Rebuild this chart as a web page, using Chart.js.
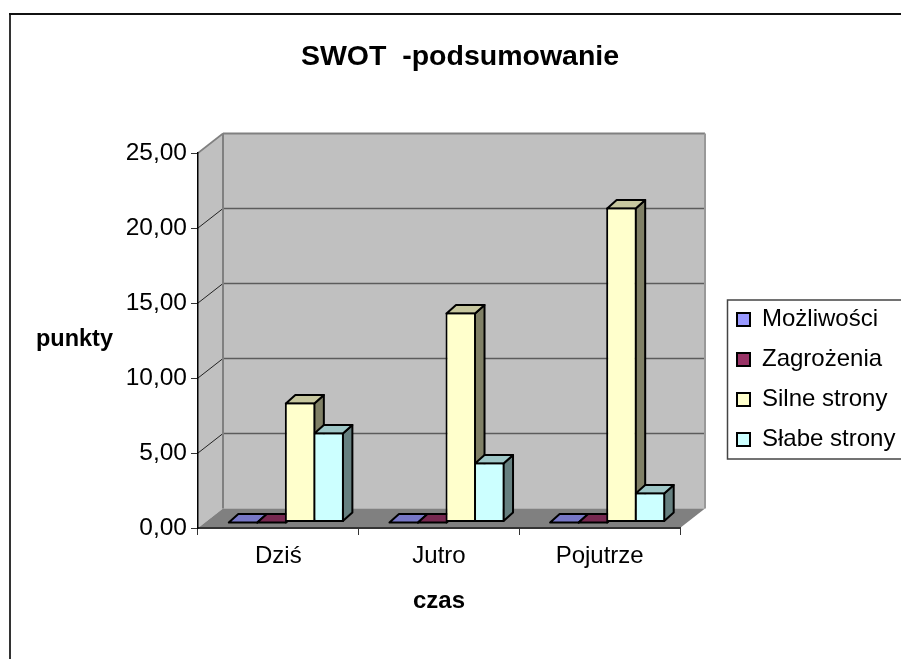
<!DOCTYPE html>
<html>
<head>
<meta charset="utf-8">
<title>SWOT</title>
<script src="https://cdn.jsdelivr.net/npm/chart.js@4"></script>
<style>
  html, body { margin: 0; padding: 0; background: #fff; }
  canvas { display: block; }
</style>
</head>
<body>
<canvas id="wykres" width="901" height="659"></canvas>
<script>
const kategorie = ["Dziś", "Jutro", "Pojutrze"];
const serie = ["Możliwości", "Zagrożenia", "Silne strony", "Słabe strony"];
const mozliwosci = [0, 0, 0];
const zagrozenia = [0, 0, 0];
const silneStrony = [8, 14, 21];
const slabeStrony = [6, 4, 2];
const kolory = ["#9999FF", "#993366", "#FFFFCC", "#CCFFFF"];

const FONT = "'Liberation Sans', Arial, sans-serif";
// glebokosc scian wykresu i slupkow
const SCIANA = { dx: 25, dy: 19.5 };
const SLUPEK = { dx: 9.5, dy: 8.5 };
const PRZESUN = { x: 7.5, y: -5.5 };

function przyciemnij(hex, k) {
  const n = parseInt(hex.slice(1), 16);
  const r = Math.round((n >> 16) * k);
  const g = Math.round(((n >> 8) & 255) * k);
  const b = Math.round((n & 255) * k);
  return `rgb(${r},${g},${b})`;
}

function wielokat(ctx, pts, fill, stroke, lw) {
  ctx.beginPath();
  pts.forEach((p, i) => (i ? ctx.lineTo(p[0], p[1]) : ctx.moveTo(p[0], p[1])));
  ctx.closePath();
  if (fill) { ctx.fillStyle = fill; ctx.fill(); }
  if (stroke) { ctx.strokeStyle = stroke; ctx.lineWidth = lw; ctx.stroke(); }
}

function linia(ctx, x1, y1, x2, y2, color, lw) {
  ctx.beginPath();
  ctx.moveTo(x1, y1);
  ctx.lineTo(x2, y2);
  ctx.strokeStyle = color;
  ctx.lineWidth = lw;
  ctx.stroke();
}

const tlo3d = {
  id: "tlo3d",
  // przesuwa legende i tytul tam gdzie sa na oryginale
  afterLayout(chart) {
    const lg = chart.legend;
    lg.left = 721;
    lg.right = 901;
    lg.top = 291.5;
    lg.bottom = 659;
    const t = chart.titleBlock;
    t.left = 0;
    t.right = 920;
  },
  beforeDraw(chart) {
    const ctx = chart.ctx;
    const a = chart.chartArea;
    const y = chart.scales.y;
    const { dx, dy } = SCIANA;
    ctx.save();
    ctx.fillStyle = "#fff";
    ctx.fillRect(0, 0, chart.width, chart.height);

    // ramka obszaru wykresu
    linia(ctx, 10, 14, 10, chart.height, "#333", 2);
    linia(ctx, 9, 14, chart.width, 14, "#111", 2);

    // sciany i podloga
    wielokat(ctx, [[a.left, a.bottom], [a.left + dx, a.bottom - dy], [a.left + dx, a.top - dy], [a.left, a.top]], "#C0C0C0");
    wielokat(ctx, [[a.left + dx, a.top - dy], [a.right + dx, a.top - dy], [a.right + dx, a.bottom - dy], [a.left + dx, a.bottom - dy]], "#C0C0C0");
    wielokat(ctx, [[a.left, a.bottom], [a.right, a.bottom], [a.right + dx, a.bottom - dy], [a.left + dx, a.bottom - dy]], "#808080");

    // linie siatki
    y.ticks.forEach((t) => {
      const py = y.getPixelForValue(t.value);
      if (t.value > 0 && t.value < y.max) {
        linia(ctx, a.left, py, a.left + dx, py - dy, "#222", 1);
        linia(ctx, a.left + dx, py - dy, a.right + dx, py - dy, "#5c5c5c", 1.6);
      }
    });

    // krawedzie scian
    linia(ctx, a.left, a.top, a.left + dx, a.top - dy, "#808080", 1.6);
    linia(ctx, a.left + dx, a.top - dy, a.right + dx, a.top - dy, "#808080", 2);
    linia(ctx, a.left + dx, a.top - dy, a.left + dx, a.bottom - dy, "#808080", 2);
    linia(ctx, a.right + dx, a.top - dy, a.right + dx, a.bottom - dy, "#999", 2);

    // ramka legendy
    ctx.strokeStyle = "#444";
    ctx.lineWidth = 1.5;
    ctx.strokeRect(727.5, 300, 190, 159);

    // opis osi Y jest poziomy, wiec nie da sie go zrobic przez scale.title
    ctx.fillStyle = "#000";
    ctx.font = "bold 23.5px " + FONT;
    ctx.textAlign = "center";
    ctx.textBaseline = "middle";
    ctx.fillText("punkty", 74.5, 340);
    ctx.restore();
  },
  // gorne i boczne sciany slupkow, od lewej do prawej
  beforeDatasetsDraw(chart) {
    const ctx = chart.ctx;
    const { dx, dy } = SLUPEK;
    ctx.save();
    ctx.translate(PRZESUN.x, PRZESUN.y);
    ctx.lineJoin = "round";
    chart.data.datasets.forEach((ds, i) => {
      const kolor = ds.backgroundColor;
      chart.getDatasetMeta(i).data.forEach((el) => {
        const p = el.getProps(["x", "y", "base", "width"], true);
        const l = p.x - p.width / 2 + 1;
        const r = p.x + p.width / 2 - 1;
        const t = p.y + (p.base > p.y ? 1 : 0);
        const b = p.base - (p.base > p.y ? 1 : 0);
        wielokat(ctx, [[r, t], [r + dx, t - dy], [r + dx, b - dy], [r, b]], przyciemnij(kolor, 0.5), "#000", 2);
        wielokat(ctx, [[l, t], [r, t], [r + dx, t - dy], [l + dx, t - dy]], przyciemnij(kolor, 0.78), "#000", 2);
      });
    });
    ctx.restore();
  },
  beforeDatasetDraw(chart) {
    chart.ctx.save();
    chart.ctx.translate(PRZESUN.x, PRZESUN.y);
  },
  afterDatasetDraw(chart) {
    chart.ctx.restore();
  }
};

const tabela = [mozliwosci, zagrozenia, silneStrony, slabeStrony];

new Chart(document.getElementById("wykres"), {
  type: "bar",
  data: {
    labels: kategorie,
    datasets: serie.map((nazwa, i) => ({
      label: nazwa,
      data: tabela[i],
      backgroundColor: kolory[i],
      borderColor: "#000",
      borderWidth: 2,
      borderSkipped: false,
      barPercentage: 1.07,
      categoryPercentage: 0.71,
      clip: false
    }))
  },
  options: {
    responsive: false,
    animation: false,
    layout: { padding: { left: 0, top: 0, right: 221, bottom: 0 } },
    plugins: {
      title: {
        display: true,
        text: "SWOT  -podsumowanie",
        color: "#000",
        font: { family: FONT, size: 28.5, weight: "bold" },
        padding: { top: 40, bottom: 78.8 }
      },
      legend: {
        position: "chartArea",
        align: "start",
        labels: {
          color: "#000",
          font: { family: FONT, size: 24 },
          boxWidth: 13,
          boxHeight: 13,
          padding: 16
        }
      },
      tooltip: { enabled: false }
    },
    scales: {
      x: {
        afterFit: (scale) => { scale.height = 131; },
        grid: { drawOnChartArea: false, tickLength: 7, tickColor: "#333", tickWidth: 1 },
        border: { color: "#333", width: 2 },
        ticks: { color: "#000", font: { family: FONT, size: 24 }, padding: 7, maxRotation: 0 },
        title: {
          display: true,
          text: "czas",
          color: "#000",
          font: { family: FONT, size: 24, weight: "bold" },
          padding: { top: 0, bottom: 43 }
        }
      },
      y: {
        min: 0,
        max: 25,
        afterFit: (scale) => { scale.width = 198; },
        grid: { drawOnChartArea: false, tickLength: 7, tickColor: "#333", tickWidth: 1 },
        border: { color: "#000", width: 1.5 },
        ticks: {
          stepSize: 5,
          color: "#000",
          font: { family: FONT, size: 24.5 },
          padding: 4,
          callback: (v) => v.toFixed(2).replace(".", ",")
        }
      }
    }
  },
  plugins: [tlo3d]
});
</script>
</body>
</html>
